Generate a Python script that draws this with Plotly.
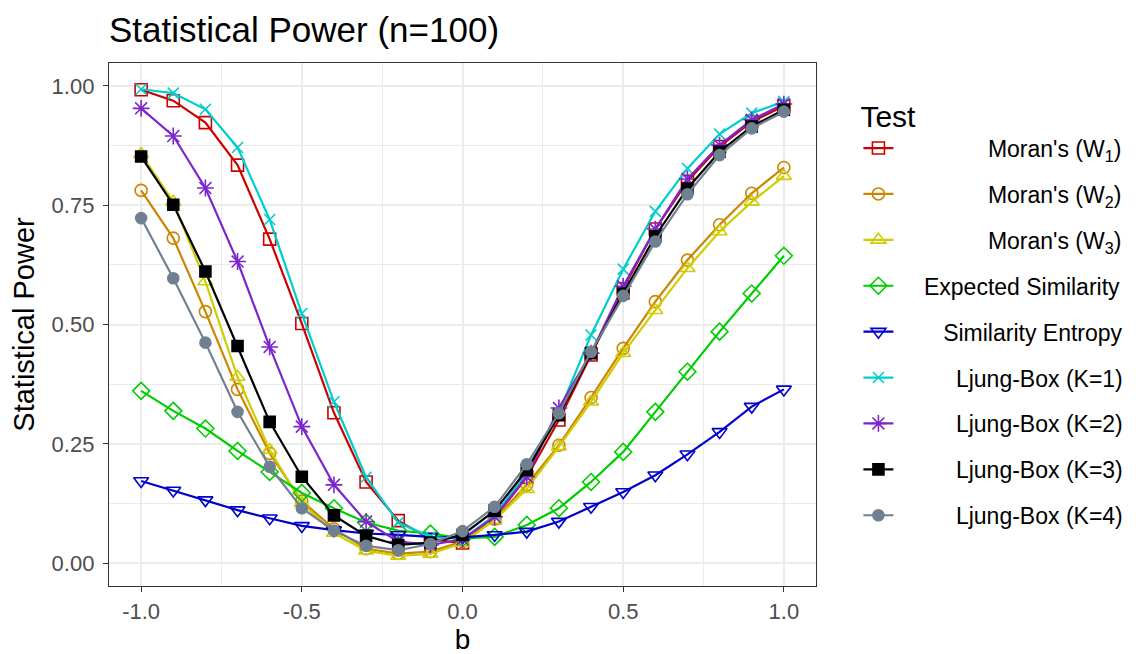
import plotly.graph_objs as go

# b values (x axis)
b = [-1.0, -0.9, -0.8, -0.7, -0.6, -0.5, -0.4, -0.3, -0.2, -0.1, 0.0,
     0.1, 0.2, 0.3, 0.4, 0.5, 0.6, 0.7, 0.8, 0.9, 1.0]

# statistical power of each test
morans_w1 = [0.992, 0.969, 0.923, 0.834, 0.679, 0.502, 0.315, 0.170, 0.089, 0.050, 0.042,
             0.095, 0.180, 0.300, 0.436, 0.575, 0.700, 0.800, 0.873, 0.925, 0.958]
morans_w2 = [0.781, 0.681, 0.527, 0.364, 0.230, 0.130, 0.072, 0.030, 0.020, 0.024, 0.045,
             0.092, 0.164, 0.247, 0.347, 0.450, 0.548, 0.635, 0.709, 0.775, 0.829]
morans_w3 = [0.857, 0.757, 0.590, 0.390, 0.237, 0.126, 0.063, 0.026, 0.015, 0.019, 0.042,
             0.090, 0.155, 0.244, 0.338, 0.440, 0.530, 0.618, 0.695, 0.757, 0.811]
expected_sim = [0.361, 0.319, 0.282, 0.235, 0.191, 0.147, 0.115, 0.085, 0.068, 0.062, 0.052,
                0.055, 0.080, 0.115, 0.170, 0.233, 0.317, 0.401, 0.485, 0.565, 0.644]
sim_entropy = [0.172, 0.152, 0.132, 0.111, 0.094, 0.078, 0.069, 0.062, 0.059, 0.055, 0.054,
               0.059, 0.066, 0.087, 0.118, 0.149, 0.184, 0.228, 0.275, 0.328, 0.364]
ljung_k1 = [0.993, 0.985, 0.951, 0.871, 0.720, 0.523, 0.338, 0.180, 0.085, 0.055, 0.050,
            0.100, 0.190, 0.315, 0.478, 0.616, 0.737, 0.827, 0.899, 0.943, 0.967]
ljung_k2 = [0.953, 0.895, 0.786, 0.632, 0.453, 0.286, 0.164, 0.087, 0.045, 0.038, 0.050,
            0.097, 0.181, 0.325, 0.440, 0.580, 0.700, 0.805, 0.876, 0.929, 0.962]
ljung_k3 = [0.852, 0.751, 0.611, 0.455, 0.296, 0.181, 0.100, 0.057, 0.038, 0.043, 0.059,
            0.110, 0.195, 0.310, 0.440, 0.565, 0.685, 0.785, 0.862, 0.915, 0.950]
ljung_k4 = [0.723, 0.597, 0.462, 0.317, 0.202, 0.115, 0.068, 0.036, 0.027, 0.040, 0.067,
            0.118, 0.207, 0.314, 0.443, 0.560, 0.674, 0.773, 0.855, 0.911, 0.946]

# tick labels (ggplot uses a plain hyphen for the minus sign)
x_ticks = [-1.0, -0.5, 0.0, 0.5, 1.0]
x_labels = ["-1.0", "-0.5", "0.0", "0.5", "1.0"]
y_ticks = [0, 0.25, 0.5, 0.75, 1.0]
y_labels = ["0.00", "0.25", "0.50", "0.75", "1.00"]

names = ["Moran's (W<sub>1</sub>)", "Moran's (W<sub>2</sub>)", "Moran's (W<sub>3</sub>)",
         "Expected Similarity", "Similarity Entropy",
         "Ljung-Box (K=1)", "Ljung-Box (K=2)", "Ljung-Box (K=3)", "Ljung-Box (K=4)"]
series = [morans_w1, morans_w2, morans_w3, expected_sim, sim_entropy,
          ljung_k1, ljung_k2, ljung_k3, ljung_k4]
colors = ["#CD0000", "#CD8500", "#CDCD00", "#00CD00", "#0000CD",
          "#00CDCD", "#7D26CD", "#000000", "#708090"]
symbols = ["square-open", "circle-open", "triangle-up-open", "diamond-open", "triangle-down-open",
           "x-thin-open", "asterisk-open", "square", "circle"]
sizes = [12, 12, 13, 13, 13, 11, 14, 11, 11]
# spaces in front of the names so they look right aligned like in ggplot
pad = [14, 14, 14, 4, 7, 9, 9, 9, 9]

fig = go.Figure()
for i in range(len(series)):
    fig.add_trace(go.Scatter(
        x=b, y=series[i],
        mode="lines+markers",
        name="\u00a0" * pad[i] + names[i],
        legendgroup=str(i),
        line=dict(color=colors[i], width=2.2),
        marker=dict(symbol=symbols[i], size=sizes[i], color=colors[i],
                    line=dict(color=colors[i], width=1.6)),
    ))

grid = "#EBEBEB"
axis_common = dict(
    showline=True, mirror=True, linecolor="#333333", linewidth=1.3,
    ticks="outside", ticklen=5, tickwidth=1.3, tickcolor="#333333",
    tickfont=dict(size=22, color="#4D4D4D"),
    showgrid=True, gridcolor=grid, gridwidth=1.6, zeroline=False,
    automargin=False,
)

# the page has an 8px body margin, so margins are shifted to put the panel where it belongs
fig.update_layout(
    width=1140, height=654,
    plot_bgcolor="white", paper_bgcolor="white",
    font=dict(family="Liberation Sans, Arial, sans-serif", color="black"),
    margin=dict(l=101, r=332, t=55, b=76),
    title=dict(text="Statistical Power (n=100)", font=dict(size=35, color="black"),
               xref="paper", x=0, xanchor="left", yref="container", y=1 - 22 / 654, yanchor="middle"),
    xaxis=dict(axis_common, range=[-1.1, 1.1], tickvals=x_ticks, ticktext=x_labels,
               minor=dict(tickvals=[-0.75, -0.25, 0.25, 0.75], showgrid=True, gridcolor=grid, gridwidth=0.8),
               title=dict(text="b", font=dict(size=28), standoff=5)),
    yaxis=dict(axis_common, range=[-0.048, 1.048], tickvals=y_ticks, ticktext=y_labels,
               ticklabelstandoff=4,
               minor=dict(tickvals=[0.125, 0.375, 0.625, 0.875], showgrid=True, gridcolor=grid, gridwidth=0.8),
               title=dict(text="Statistical Power", font=dict(size=29), standoff=11)),
    legend=dict(title=dict(text="Test", font=dict(size=30)), font=dict(size=23),
                x=1.06, xanchor="left", y=0.953, yanchor="top", tracegroupgap=13,
                bgcolor="rgba(0,0,0,0)"),
)

fig.write_html("out.html")
